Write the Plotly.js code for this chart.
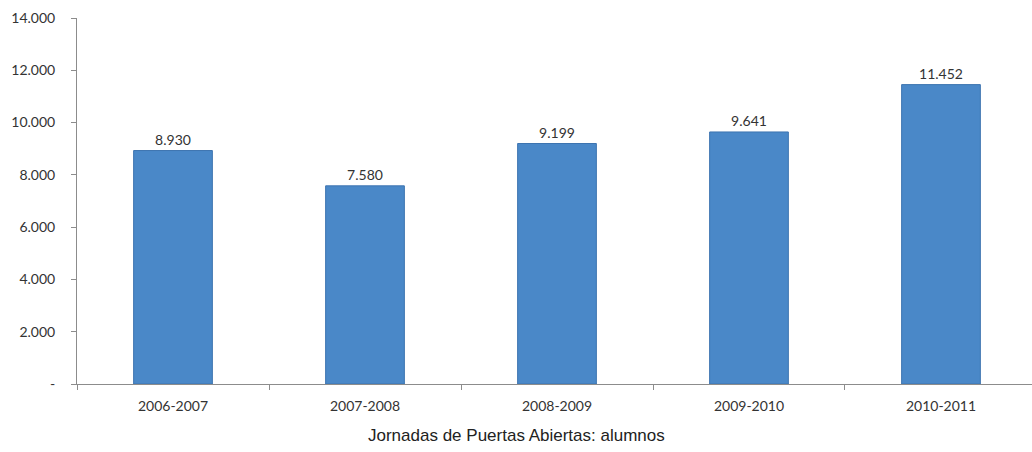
<!DOCTYPE html>
<html>
<head>
<meta charset="utf-8">
<script src="https://cdn.plot.ly/plotly-3.0.1.min.js"></script>
<style>html,body{margin:0;padding:0;background:#fff;}#chart{width:1032px;height:452px;}</style>
</head>
<body>
<div id="chart"></div>
<script>
const categories = ['2006-2007', '2007-2008', '2008-2009', '2009-2010', '2010-2011'];
const alumnos = [8930, 7580, 9199, 9641, 11452];
const yTickVals = [0, 2000, 4000, 6000, 8000, 10000, 12000, 14000];
const yTickText = ['-', '2.000', '4.000', '6.000', '8.000', '10.000', '12.000', '14.000'];
const caption = 'Jornadas de Puertas Abiertas: alumnos';

const tickFont = {family: 'Lato, "Open Sans", sans-serif', size: 14, color: '#333333'};

const trace = {
  type: 'bar',
  x: categories,
  y: alumnos,
  width: 0.41,
  marker: {color: '#4a88c8', line: {color: '#3d74b0', width: 1}},
  texttemplate: '%{y:,}',
  textposition: 'outside',
  cliponaxis: false,
  textfont: tickFont,
  hoverinfo: 'skip'
};

const layout = {
  width: 1032,
  height: 452,
  margin: {l: 77, r: 0, t: 18, b: 68},
  paper_bgcolor: '#ffffff',
  plot_bgcolor: '#ffffff',
  separators: ',.',
  showlegend: false,
  xaxis: {
    type: 'category',
    range: [-0.5, 4.474],
    showline: true,
    linecolor: '#8c8c8c',
    linewidth: 1,
    ticks: 'outside',
    tickson: 'boundaries',
    ticklen: 5,
    tickcolor: '#8c8c8c',
    tickfont: tickFont,
    ticklabelstandoff: 9,
    showgrid: false,
    zeroline: false,
    fixedrange: true
  },
  yaxis: {
    range: [0, 14000],
    tickvals: yTickVals,
    ticktext: yTickText,
    showline: true,
    linecolor: '#8c8c8c',
    linewidth: 1,
    ticks: 'outside',
    ticklen: 5,
    tickcolor: '#8c8c8c',
    tickfont: tickFont,
    ticklabelstandoff: 13,
    showgrid: false,
    zeroline: false,
    fixedrange: true
  },
  annotations: [{
    text: caption,
    xref: 'paper', yref: 'paper',
    x: 0.46, y: -0.142,
    xanchor: 'center', yanchor: 'middle',
    showarrow: false,
    font: {family: '"Liberation Sans", Arial, sans-serif', size: 17, color: '#222222'}
  }]
};

Plotly.newPlot('chart', [trace], layout, {displayModeBar: false, staticPlot: true});
</script>
</body>
</html>
